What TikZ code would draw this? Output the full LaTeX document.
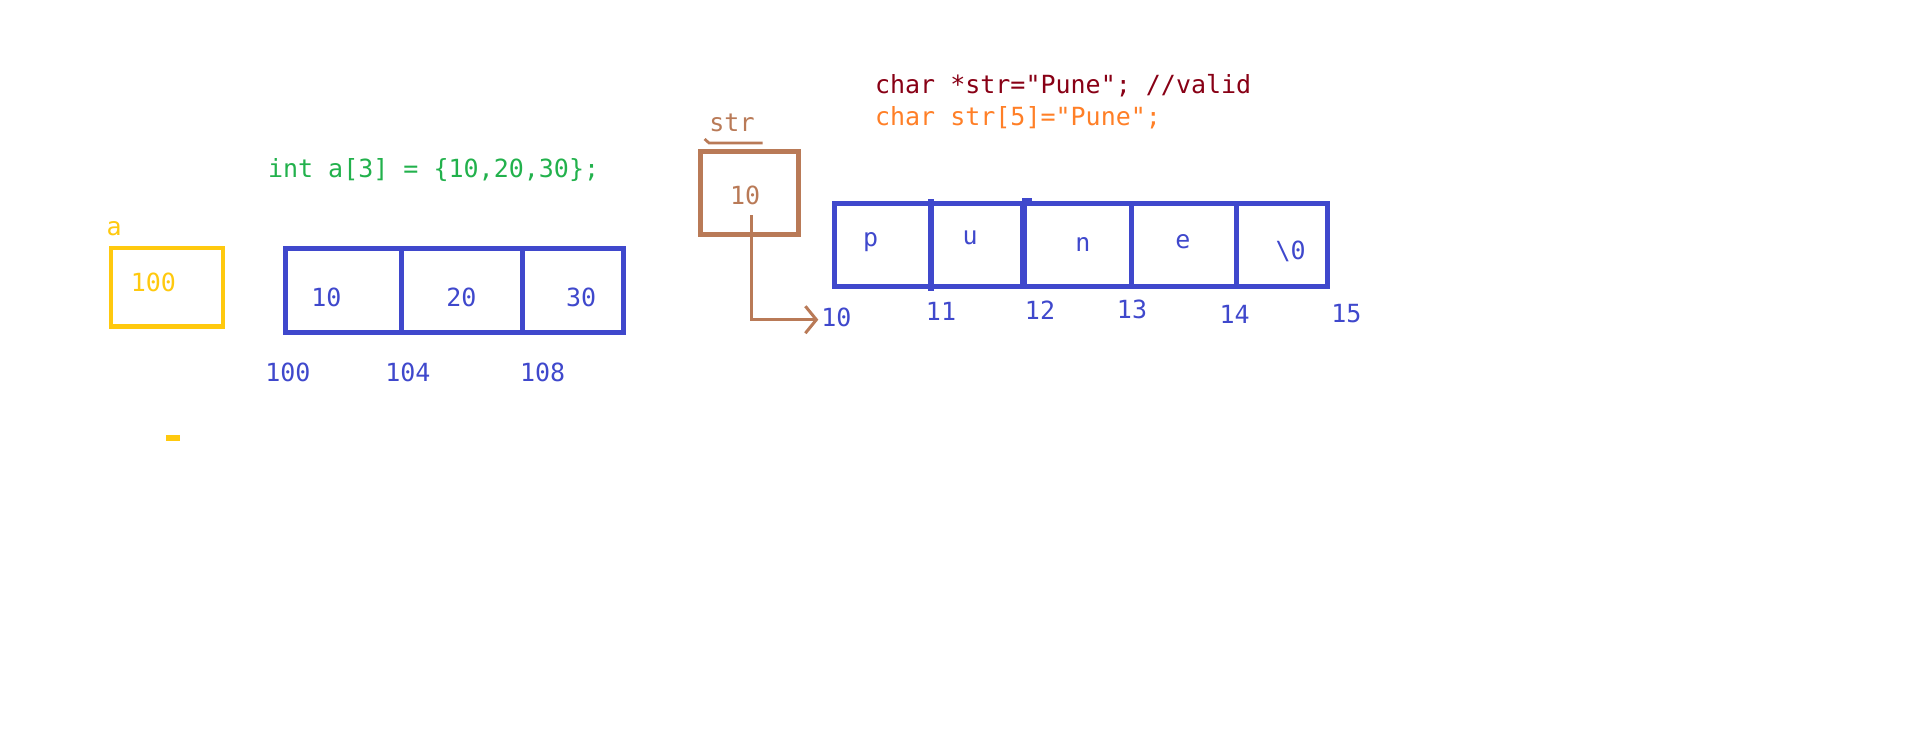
\documentclass[tikz,border=0pt]{standalone}
\usepackage{fontspec}
\setmonofont{DejaVu Sans Mono}
\usepackage{tikz}
\usetikzlibrary{arrows.meta,positioning}

\definecolor{arrblue}{RGB}{63,72,204}
\definecolor{ptryellow}{RGB}{255,201,14}
\definecolor{ptrbrown}{RGB}{185,122,87}
\definecolor{codegreen}{RGB}{34,177,76}
\definecolor{codered}{RGB}{136,0,21}
\definecolor{codeorange}{RGB}{255,127,39}

\begin{document}
\begin{tikzpicture}[x=1pt,y=-1pt,>={Straight Barb[length=11pt,width=27pt]},
                    line join=miter]
	\tikzstyle{every node}=[inner sep=0pt,outer sep=0pt,
	                        font=\ttfamily\fontsize{25}{30}\selectfont]
	\tikzstyle{intcell}=[draw=arrblue,line width=5pt,minimum height=84.7pt]
	\tikzstyle{charcell}=[draw=arrblue,line width=5pt,minimum height=82.3pt]
	\tikzstyle{ptrbox}=[line width=4.6pt,minimum width=111.8pt,minimum height=78.7pt]
	\tikzstyle{num}=[text=arrblue]
	\tikzstyle{codeline}=[anchor=base west]

	\useasboundingbox (0,0) rectangle (1914,734);

	% int array
	\node[codeline,text=codegreen] (intcode) at (268,177.3) {int a[3] = \{10,20,30\};};
	\node[ptrbox,draw=ptryellow] (abox) at (167,287.4) {};
	\node[text=ptryellow] (aname) at (114.2,228.3) {a};
	\node[text=ptryellow] (aval) at (153.4,282.5) {100};

	\node[intcell,minimum width=116.4pt] (a0) at (343.2,290.4) {};
	\node[intcell,minimum width=121.5pt,right=0pt of a0] (a1) {};
	\node[intcell,minimum width=100.7pt,right=0pt of a1] (a2) {};

	\node[num] (v0) at (326.3,297.5) {10};
	\node[num] (v1) at (461.4,297.5) {20};
	\node[num] (v2) at (581.1,297.5) {30};

	\node[num] (addr0) at (287.9,372.5) {100};
	\node[num] (addr1) at (407.9,372.5) {104};
	\node[num] (addr2) at (542.7,372.5) {108};

	\fill[ptryellow] (166,435) rectangle (180,441);

	% char array
	\node[codeline,text=codered] (ptrcode) at (875,93.3) {char *str="Pune"; //valid};
	\node[codeline,text=codeorange] (arrcode) at (875,125) {char str[5]="Pune";};

	\node[text=ptrbrown] (strname) at (732,123) {str};
	\draw[ptrbrown,line width=2.7pt] (704.6,139) -- (709,143) -- (762.6,143);
	\node[ptrbox,draw=ptrbrown,minimum width=97.7pt,minimum height=82.5pt] (strbox) at (749.6,193) {};
	\node[text=ptrbrown] (strval) at (745.2,195) {10};

	\node[charcell,minimum width=96.2pt] (c0) at (883,244.9) {};
	\node[charcell,minimum width=92.65pt,right=0pt of c0] (c1) {};
	\node[charcell,minimum width=107.55pt,right=0pt of c1] (c2) {};
	\node[charcell,minimum width=105.4pt,right=0pt of c2] (c3) {};
	\node[charcell,minimum width=90.6pt,right=0pt of c3] (c4) {};
	\draw[arrblue,line width=5.5pt] ([yshift=4.5pt]c0.north east) -- ([yshift=-4.5pt]c0.south east);
	\draw[arrblue,line width=7pt] (c1.north east) -- (c1.south east);
	\fill[arrblue] ([xshift=-1.5pt,yshift=5.5pt]c1.north east) rectangle ([xshift=8.5pt,yshift=-2.5pt]c1.north east);

	\node[num] (ch0) at (870.6,242) {p};
	\node[num] (ch1) at (970.2,237.5) {u};
	\node[num] (ch2) at (1083,244) {n};
	\node[num] (ch3) at (1183,241.5) {e};
	\node[num] (ch4) at (1290.6,251) {\textbackslash0};

	\node[num] (caddr0) at (836.3,317.5) {10};
	\node[num] (caddr1) at (941,311) {11};
	\node[num] (caddr2) at (1040,310) {12};
	\node[num] (caddr3) at (1132,309) {13};
	\node[num] (caddr4) at (1234.6,314) {14};
	\node[num] (caddr5) at (1346.3,314) {15};

	\coordinate (ptrstart) at (751.3,215);
	\coordinate (ptrend) at (818.3,319.7);
	\draw[->,ptrbrown,line width=3pt] (ptrstart) |- (ptrend);
\end{tikzpicture}
\end{document}
